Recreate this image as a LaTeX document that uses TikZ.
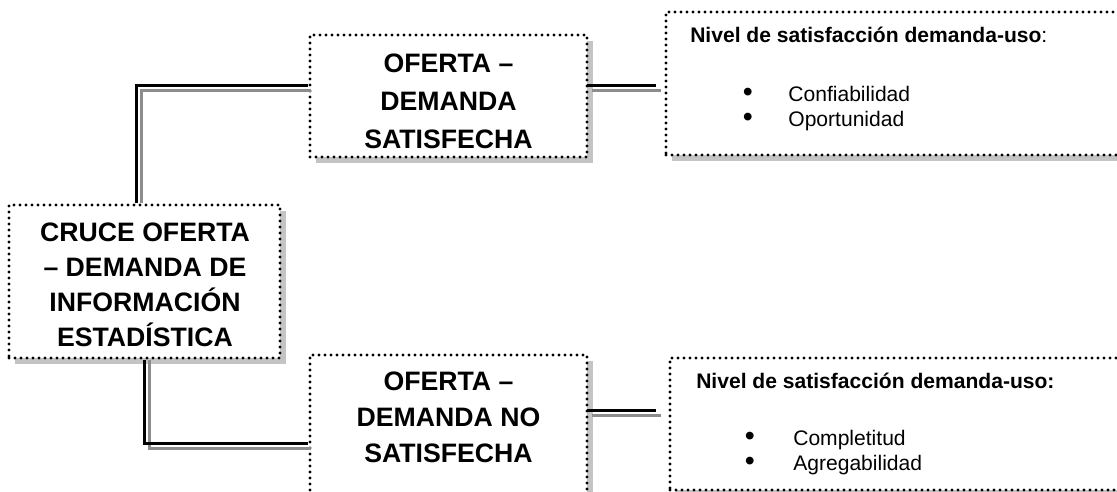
\documentclass[tikz,border=0pt]{standalone}
\usepackage{fontspec}
\setmainfont{Liberation Sans}
\usetikzlibrary{calc,shadows}
\definecolor{shadowgray}{RGB}{196,196,196}
\definecolor{linegray}{RGB}{140,140,140}
\newcommand{\bigbul}{\scalebox{1.35}{•}}
\tikzset{
  dotbox/.style={draw=black, fill=white, line width=2.5pt, dash pattern=on 0pt off 4.5pt, line cap=round, inner sep=0pt,
    drop shadow={shadow xshift=4.5pt, shadow yshift=-4.5pt, fill=shadowgray, opacity=1}},
  conn/.style={draw=black, line width=2.6pt},
  connshadow/.style={draw=linegray, line width=2.6pt},
  bigtext/.style={font=\fontsize{20pt}{26.25pt}\selectfont\bfseries, align=center, inner sep=0pt},
  midtext/.style={font=\fontsize{20pt}{28.5pt}\selectfont\bfseries, align=center, inner sep=0pt},
  smalltext/.style={font=\fontsize{15.8pt}{18.75pt}\selectfont, align=left, inner sep=0pt},
}
\begin{document}
\begin{tikzpicture}[x=0.75pt,y=-0.75pt]
\useasboundingbox (0,0) rectangle (1117,492);
% boxes
\node[dotbox, minimum width=203.25pt, minimum height=114.75pt] (main) at (144.5,281.5) {};
\node[dotbox, minimum width=207.75pt, minimum height=91.5pt] (top) at (448.5,96) {};
\node[dotbox, minimum width=207.75pt, minimum height=108.75pt] (bot) at (448.5,427.5) {};
\node[dotbox, minimum width=348pt, minimum height=107.25pt] (rtop) at (898,83.5) {};
\node[dotbox, minimum width=345pt, minimum height=99pt] (rbot) at (900,424) {};
% connector shadows
\draw[connshadow] ($(main.north west)+(134,0)$) |- ($(top.north west)+(3,57)$);
\draw[connshadow] ($(main.south west)+(142,0)$) |- ($(bot.north west)+(3,95)$);
\draw[connshadow] ($(top.north east)+(3,57)$) -- ($(rtop.north west)+(-3,80)$);
\draw[connshadow] ($(bot.north east)+(3,62)$) -- ($(rbot.north west)+(-7,59)$);
% connectors
\draw[conn] ($(main.north west)+(129,0)$) |- ($(top.north west)+(0,52)$);
\draw[conn] ($(main.south west)+(137,0)$) |- ($(bot.north west)+(0,90)$);
\draw[conn] ($(top.north east)+(-2,52)$) -- ($(rtop.north west)+(-8,75)$);
\draw[conn] ($(bot.north east)+(-2,57)$) -- ($(rbot.north west)+(-12,54)$);
% texts (base anchor = baseline of the last line)
\node[bigtext, anchor=base] (maintext) at (145,346.7) {CRUCE OFERTA\\– DEMANDA DE\\INFORMACIÓN\\ESTADÍSTICA};
\node[midtext, anchor=base] (toptext) at (448.5,148) {OFERTA –\\DEMANDA\\SATISFECHA};
\node[bigtext, anchor=base, font=\fontsize{20pt}{27pt}\selectfont\bfseries] (bottext) at (448.5,462) {OFERTA –\\DEMANDA NO\\SATISFECHA};
\node[smalltext, anchor=base west] (rtophead) at (690,43) {\textbf{Nivel de satisfacción demanda-uso}:};
\node[smalltext, anchor=base west] (rtoplist) at (742.5,126) {\makebox[34.2pt][l]{\bigbul}Confiabilidad\\\makebox[34.2pt][l]{\bigbul}Oportunidad};
\node[smalltext, anchor=base west] (rbothead) at (696,388) {\textbf{Nivel de satisfacción demanda-uso:}};
\node[smalltext, anchor=base west] (rbotlist) at (744.5,470) {\makebox[36.4pt][l]{\bigbul}Completitud\\\makebox[36.4pt][l]{\bigbul}Agregabilidad};
\end{tikzpicture}
\end{document}
